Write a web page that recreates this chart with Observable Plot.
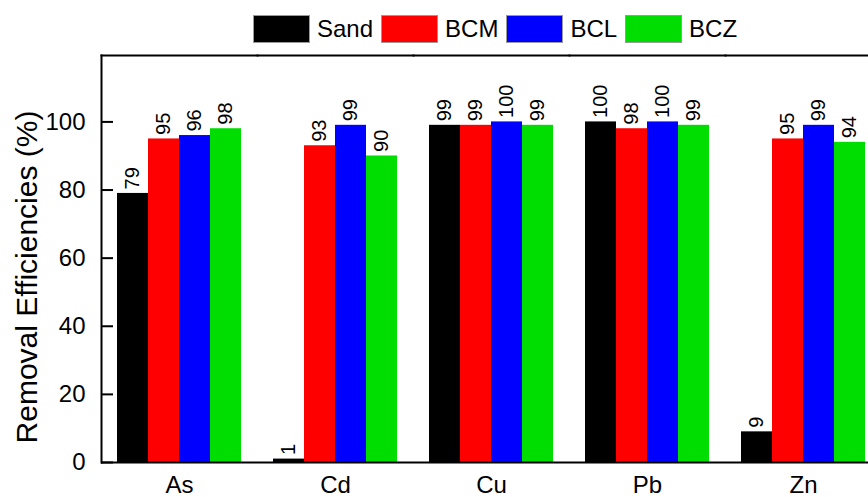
<!DOCTYPE html>
<html>
<head>
<meta charset="utf-8">
<script src="https://cdn.jsdelivr.net/npm/d3@7"></script>
<script src="https://cdn.jsdelivr.net/npm/@observablehq/plot@0.6"></script>
<style>
  html, body { margin: 0; padding: 0; background: #fff; overflow: hidden; width: 868px; height: 497px; }
  #legend { position: relative; height: 50px; font-family: "Liberation Sans", Arial, sans-serif; }
  #legend .row { position: absolute; left: 253px; top: 15px; display: flex; align-items: center; }
  #legend .sw { width: 57px; height: 28px; box-sizing: border-box; border: 1px solid #9a9a9a; }
  #legend .lb { font-size: 24px; line-height: 28px; margin: 0 8px 0 7px; color: #000; }
  #chart { width: 868px; overflow: hidden; }
  #chart svg { display: block; max-width: none !important; width: 890px; height: 447px; }
</style>
</head>
<body>
<div id="legend"><div class="row"></div></div>
<div id="chart"></div>
<script>
const metals = ["As", "Cd", "Cu", "Pb", "Zn"];
const seriesNames = ["Sand", "BCM", "BCL", "BCZ"];
const sandValues = [79, 1, 99, 100, 9];
const bcmValues = [95, 93, 99, 98, 95];
const bclValues = [96, 99, 100, 100, 99];
const bczValues = [98, 90, 99, 99, 94];
const seriesColors = ["#000000", "#ff0000", "#0000ff", "#00dd00"];
const yTicks = [0, 20, 40, 60, 80, 100];
const yTitle = "Removal Efficiencies (%)";

const allValues = [sandValues, bcmValues, bclValues, bczValues];
const data = [];
metals.forEach((m, i) => {
  seriesNames.forEach((s, j) => {
    data.push({metal: m, series: s, value: allValues[j][i]});
  });
});

// legend
const row = document.querySelector("#legend .row");
seriesNames.forEach((s, j) => {
  const sw = document.createElement("div");
  sw.className = "sw";
  sw.style.background = seriesColors[j];
  const lb = document.createElement("div");
  lb.className = "lb";
  lb.textContent = s;
  row.appendChild(sw);
  row.appendChild(lb);
});

const font = "'Liberation Sans', Arial, sans-serif";

const chart = Plot.plot({
  width: 890,
  height: 447,
  marginLeft: 101,
  marginRight: 9,
  marginTop: 5,
  marginBottom: 35,
  style: {fontFamily: font, color: "#000", background: "#fff", overflow: "visible", maxWidth: "none"},
  fx: {domain: metals, padding: 0, label: null},
  x: {domain: seriesNames, paddingInner: 0, paddingOuter: 0.5, axis: null},
  y: {domain: [0, 119.5], axis: null},
  color: {domain: seriesNames, range: seriesColors},
  marks: [
    Plot.barY(data, {fx: "metal", x: "series", y: "value", fill: "series", inset: 0}),
    Plot.text(data, {
      fx: "metal", x: "series", y: "value", text: d => String(d.value),
      rotate: -90, textAnchor: "start", lineAnchor: "middle", dy: -4,
      fontSize: 20, fill: "#000"
    }),
    Plot.ruleY([0], {stroke: "#000", strokeWidth: 2}),
    Plot.frame({anchor: "top", stroke: "#000", strokeWidth: 2}),
    Plot.frame({anchor: "left", facetAnchor: "left", stroke: "#000", strokeWidth: 2}),
    Plot.frame({anchor: "right", facetAnchor: "right", stroke: "#000", strokeWidth: 2}),
    Plot.axisY({anchor: "left", ticks: yTicks, tickSize: -12, tickPadding: 28, fontSize: 24, strokeWidth: 2, label: null}),
    Plot.axisY({anchor: "right", ticks: yTicks, tickSize: -12, tickFormat: () => "", strokeWidth: 2, label: null}),
    Plot.axisFx({anchor: "bottom", tickSize: 0, tickPadding: 13, fontSize: 24, label: null}),
    Plot.text([yTitle], {
      frameAnchor: "left", facetAnchor: "left", rotate: -90,
      textAnchor: "middle", lineAnchor: "middle", dx: -74, dy: 18,
      fontSize: 30, fill: "#000"
    })
  ]
});
document.getElementById("chart").appendChild(chart);
</script>
</body>
</html>
